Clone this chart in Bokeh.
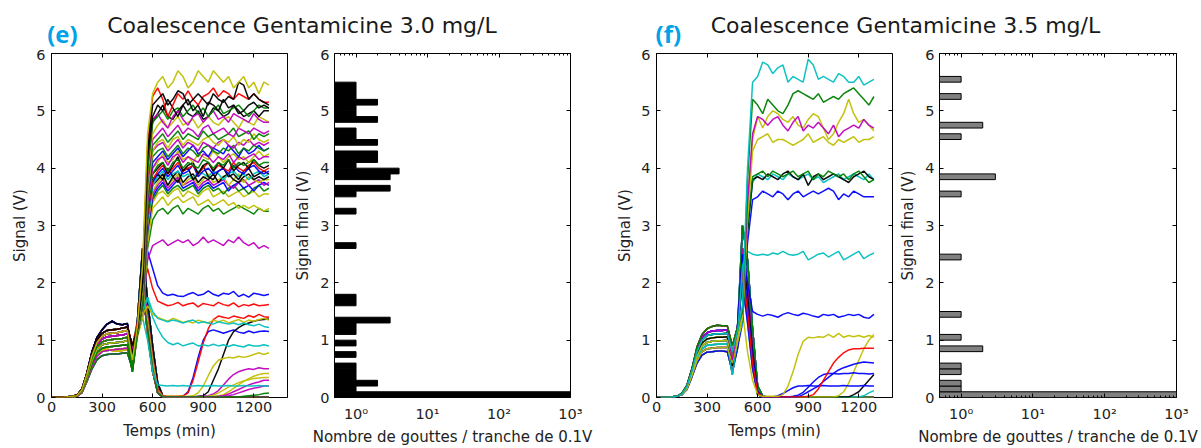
from bokeh.plotting import figure
from bokeh.layouts import row, column
from bokeh.models import Range1d, FixedTicker, LinearAxis, LogAxis, Label, CustomJSTickFormatter
from bokeh.embed import file_html
from bokeh.resources import INLINE

# ---------------- data ----------------
T = [0, 30, 60, 90, 120, 150, 180, 210, 240, 270, 300, 330, 360, 390, 420, 450, 480,
     510, 540, 570, 600, 630, 660, 690, 720, 750, 780, 810, 840, 870, 900, 930, 960,
     990, 1020, 1050, 1080, 1110, 1140, 1170, 1200, 1230, 1260, 1290]

X_TICKS = [0, 300, 600, 900, 1200]
Y_TICKS = [0, 1, 2, 3, 4, 5, 6]
LOG_TICKS = [1, 10, 100, 1000]

TITLE_E = "Coalescence Gentamicine 3.0 mg/L"
TITLE_F = "Coalescence Gentamicine 3.5 mg/L"

# early phase (t = 0..480), panel e
E_EARLY = [
    [0, 0, 0, 0.01, 0.01, 0.02, 0.08, 0.28, 0.50, 0.66, 0.73, 0.75, 0.76, 0.76, 0.77, 0.78, 0.50],
    [0, 0, 0, 0.01, 0.01, 0.02, 0.09, 0.30, 0.55, 0.72, 0.80, 0.82, 0.83, 0.84, 0.85, 0.86, 0.62],
    [0, 0, 0, 0.01, 0.01, 0.03, 0.10, 0.32, 0.59, 0.78, 0.86, 0.88, 0.89, 0.90, 0.91, 0.92, 0.45],
    [0, 0, 0, 0.01, 0.02, 0.03, 0.11, 0.35, 0.64, 0.84, 0.92, 0.94, 0.95, 0.96, 0.97, 0.99, 0.72],
    [0, 0, 0, 0.01, 0.02, 0.03, 0.12, 0.37, 0.68, 0.89, 0.97, 1.00, 1.01, 1.02, 1.03, 1.05, 0.55],
    [0, 0, 0, 0.01, 0.02, 0.03, 0.12, 0.38, 0.70, 0.92, 1.02, 1.06, 1.07, 1.08, 1.09, 1.11, 0.82],
    [0, 0, 0, 0.01, 0.02, 0.03, 0.13, 0.40, 0.73, 0.96, 1.07, 1.11, 1.12, 1.13, 1.15, 1.17, 0.65],
    [0, 0, 0, 0.01, 0.02, 0.04, 0.14, 0.42, 0.76, 1.00, 1.12, 1.17, 1.18, 1.19, 1.21, 1.23, 0.90],
    [0, 0, 0, 0.01, 0.02, 0.04, 0.14, 0.43, 0.80, 1.05, 1.18, 1.28, 1.33, 1.28, 1.27, 1.29, 0.75],
    [0, 0, 0, 0.01, 0.01, 0.02, 0.10, 0.32, 0.58, 0.76, 0.83, 0.84, 0.82, 0.81, 0.82, 0.84, 0.60],
]

# drops to zero (t = 510..1290), panel e
E_DROP = [
    [1.30, 2.30, 1.40, 0.70, 0.15, 0.02, 0, 0, 0, 0, 0, 0, 0, 0, 0, 0, 0, 0, 0, 0, 0, 0, 0, 0, 0, 0, 0],
    [1.20, 2.00, 1.10, 0.45, 0.08, 0.01, 0, 0, 0, 0, 0, 0, 0, 0, 0, 0, 0, 0, 0, 0, 0, 0, 0, 0, 0, 0, 0],
    [1.35, 2.60, 1.70, 0.90, 0.25, 0.03, 0, 0, 0, 0, 0, 0, 0, 0, 0, 0, 0, 0, 0, 0, 0, 0, 0, 0, 0, 0, 0],
]

E_ZERO = [("b", 0, 0), ("g", 1, 1), ("r", 2, 2), ("c", 3, 0), ("m", 4, 1), ("y", 5, 2), ("k", 6, 0),
          ("b", 7, 1), ("g", 8, 2), ("r", 9, 0), ("c", 0, 1), ("m", 1, 2), ("y", 2, 0), ("k", 3, 1),
          ("b", 4, 2), ("g", 5, 0), ("r", 6, 1), ("c", 7, 2), ("m", 8, 0), ("y", 9, 1), ("k", 4, 2)]

# traces that leave the zero line (t = 510..1290), panel e
E_TRACES = [
    ("b", 4, [1.25, 2.00, 1.30, 0.60, 0.12, 0.02, 0.01, 0.01, 0.01, 0.02, 0.10, 0.35, 0.70, 1.00, 1.15, 1.18, 1.15, 1.12, 1.15, 1.18, 1.14, 1.12, 1.16, 1.13, 1.15, 1.16, 1.15]),
    ("r", 5, [1.20, 1.90, 1.40, 0.70, 0.15, 0.03, 0.02, 0.02, 0.02, 0.03, 0.08, 0.30, 0.62, 0.95, 1.20, 1.36, 1.42, 1.40, 1.38, 1.42, 1.40, 1.38, 1.43, 1.40, 1.45, 1.41, 1.40]),
    ("k", 7, [1.20, 1.80, 1.30, 0.60, 0.10, 0.02, 0.01, 0.01, 0.01, 0.01, 0.01, 0.01, 0.02, 0.03, 0.10, 0.30, 0.50, 0.75, 1.00, 1.15, 1.22, 1.27, 1.30, 1.33, 1.35, 1.36, 1.37]),
    ("y", 2, [1.20, 1.85, 1.35, 0.65, 0.12, 0.02, 0.02, 0.02, 0.02, 0.02, 0.02, 0.03, 0.08, 0.20, 0.38, 0.55, 0.65, 0.68, 0.70, 0.69, 0.72, 0.70, 0.72, 0.75, 0.78, 0.75, 0.78]),
    ("m", 3, [1.20, 1.90, 1.30, 0.60, 0.10, 0.02, 0.01, 0.01, 0.01, 0.01, 0.01, 0.01, 0.01, 0.02, 0.03, 0.06, 0.12, 0.22, 0.32, 0.40, 0.45, 0.48, 0.50, 0.49, 0.52, 0.50, 0.50]),
    ("y", 1, [1.20, 1.90, 1.30, 0.60, 0.10, 0.02, 0.01, 0.01, 0.01, 0.01, 0.01, 0.01, 0.01, 0.01, 0.01, 0.02, 0.03, 0.05, 0.10, 0.16, 0.22, 0.28, 0.33, 0.37, 0.40, 0.42, 0.42]),
    ("m", 0, [1.20, 1.80, 1.20, 0.50, 0.08, 0.01, 0.01, 0.01, 0.01, 0.01, 0.01, 0.01, 0.01, 0.01, 0.01, 0.01, 0.02, 0.03, 0.06, 0.10, 0.14, 0.18, 0.22, 0.25, 0.27, 0.30, 0.30]),
    ("y", 9, [1.20, 1.85, 1.25, 0.55, 0.09, 0.01, 0.01, 0.01, 0.01, 0.01, 0.01, 0.01, 0.01, 0.01, 0.02, 0.04, 0.08, 0.13, 0.18, 0.22, 0.26, 0.29, 0.31, 0.33, 0.34, 0.35, 0.35]),
    ("m", 6, [1.20, 1.80, 1.20, 0.50, 0.08, 0.01, 0.01, 0.01, 0.01, 0.01, 0.01, 0.01, 0.01, 0.01, 0.01, 0.01, 0.01, 0.02, 0.03, 0.05, 0.08, 0.11, 0.14, 0.16, 0.18, 0.20, 0.20]),
    ("g", 5, [1.20, 1.80, 1.20, 0.50, 0.08, 0.01, 0.01, 0.01, 0.01, 0.01, 0.01, 0.01, 0.01, 0.01, 0.01, 0.01, 0.01, 0.01, 0.01, 0.01, 0.01, 0.02, 0.03, 0.04, 0.05, 0.07, 0.08]),
    ("c", 3, [1.10, 1.40, 1.00, 0.45, 0.22, 0.21, 0.20, 0.21, 0.20, 0.21, 0.20, 0.20, 0.21, 0.20, 0.20, 0.21, 0.20, 0.20, 0.21, 0.20, 0.20, 0.21, 0.20, 0.20, 0.21, 0.20, 0.20]),
    ("c", 6, [1.15, 1.50, 1.72, 1.40, 1.20, 1.05, 0.96, 0.92, 0.95, 0.90, 0.93, 0.95, 0.90, 0.92, 0.90, 0.93, 0.90, 0.92, 0.89, 0.92, 0.90, 0.88, 0.92, 0.90, 0.90, 0.92, 0.90]),
    ("y", 4, [1.15, 1.45, 1.60, 1.45, 1.40, 1.36, 1.33, 1.38, 1.35, 1.31, 1.33, 1.30, 1.35, 1.32, 1.30, 1.35, 1.32, 1.35, 1.30, 1.33, 1.36, 1.31, 1.35, 1.33, 1.36, 1.38, 1.35]),
    ("c", 1, [1.20, 1.55, 1.75, 1.50, 1.38, 1.35, 1.32, 1.35, 1.33, 1.30, 1.33, 1.35, 1.30, 1.32, 1.30, 1.28, 1.32, 1.30, 1.28, 1.30, 1.27, 1.30, 1.27, 1.25, 1.28, 1.24, 1.22]),
    ("r", 7, [1.20, 1.85, 2.25, 1.90, 1.68, 1.64, 1.60, 1.62, 1.66, 1.60, 1.63, 1.65, 1.58, 1.64, 1.62, 1.60, 1.66, 1.62, 1.60, 1.65, 1.58, 1.62, 1.60, 1.63, 1.60, 1.61, 1.62]),
    ("b", 8, [1.25, 1.95, 2.55, 2.25, 1.95, 1.82, 1.78, 1.80, 1.77, 1.76, 1.80, 1.83, 1.78, 1.80, 1.86, 1.80, 1.77, 1.82, 1.80, 1.85, 1.76, 1.80, 1.75, 1.82, 1.80, 1.78, 1.80]),
    ("m", 2, [1.10, 1.50, 2.40, 2.65, 2.70, 2.75, 2.65, 2.70, 2.75, 2.70, 2.75, 2.65, 2.70, 2.80, 2.70, 2.75, 2.70, 2.65, 2.75, 2.70, 2.80, 2.70, 2.65, 2.70, 2.60, 2.65, 2.60]),
    ("g", 0, [1.10, 1.40, 2.60, 3.10, 3.25, 3.30, 3.20, 3.30, 3.35, 3.20, 3.30, 3.25, 3.20, 3.30, 3.35, 3.25, 3.30, 3.20, 3.25, 3.30, 3.35, 3.30, 3.25, 3.20, 3.30, 3.25, 3.25]),
    ("y", 9, [1.05, 1.40, 2.70, 3.30, 3.40, 3.50, 3.35, 3.45, 3.50, 3.40, 3.45, 3.50, 3.35, 3.40, 3.45, 3.35, 3.40, 3.45, 3.35, 3.40, 3.30, 3.35, 3.30, 3.35, 3.30, 3.25, 3.30]),
    ("y", 1, [1.10, 1.40, 2.80, 3.40, 3.55, 3.60, 3.50, 3.60, 3.65, 3.50, 3.60, 3.55, 3.50, 3.60, 3.65, 3.50, 3.55, 3.60, 3.50, 3.55, 3.60, 3.50, 3.55, 3.60, 3.50, 3.55, 3.55]),
    ("g", 2, [1.15, 1.50, 2.90, 3.45, 3.60, 3.70, 3.55, 3.65, 3.70, 3.60, 3.65, 3.70, 3.55, 3.65, 3.70, 3.60, 3.65, 3.55, 3.65, 3.70, 3.60, 3.65, 3.55, 3.65, 3.70, 3.60, 3.65]),
    ("b", 3, [1.10, 1.50, 2.90, 3.50, 3.65, 3.75, 3.60, 3.70, 3.80, 3.65, 3.70, 3.75, 3.60, 3.70, 3.75, 3.65, 3.70, 3.75, 3.60, 3.70, 3.75, 3.65, 3.70, 3.60, 3.70, 3.75, 3.70]),
    ("m", 4, [1.15, 1.50, 3.00, 3.55, 3.70, 3.80, 3.65, 3.75, 3.85, 3.70, 3.75, 3.80, 3.65, 3.75, 3.80, 3.70, 3.75, 3.80, 3.70, 3.65, 3.75, 3.80, 3.70, 3.75, 3.80, 3.70, 3.75]),
    ("y", 5, [1.10, 1.50, 3.00, 3.60, 3.75, 3.85, 3.70, 3.80, 3.90, 3.70, 3.80, 3.85, 3.70, 3.80, 3.90, 3.75, 3.80, 3.85, 3.70, 3.80, 3.90, 3.75, 3.85, 3.80, 3.75, 3.80, 3.80]),
    ("k", 7, [1.20, 1.60, 3.10, 3.70, 3.80, 3.90, 3.70, 3.85, 3.95, 3.75, 3.85, 3.90, 3.75, 3.85, 3.80, 3.90, 3.75, 3.85, 3.90, 3.80, 3.75, 3.85, 3.90, 3.80, 3.85, 3.80, 3.85]),
    ("c", 6, [1.10, 1.60, 3.10, 3.70, 3.85, 3.95, 3.80, 3.90, 3.95, 3.85, 3.90, 3.80, 3.95, 3.90, 3.85, 3.95, 3.90, 3.80, 3.90, 3.95, 3.85, 3.90, 3.80, 3.90, 3.95, 3.85, 3.90]),
    ("k", 8, [1.25, 1.70, 3.20, 3.80, 3.90, 3.80, 4.00, 3.85, 3.75, 3.95, 4.00, 3.80, 3.90, 4.05, 3.85, 3.80, 3.95, 4.00, 3.85, 3.90, 3.80, 3.95, 4.00, 3.85, 3.90, 3.95, 3.90]),
    ("b", 5, [1.10, 1.60, 3.20, 3.75, 3.90, 4.00, 3.85, 3.95, 4.05, 3.90, 3.95, 4.05, 3.85, 3.95, 4.00, 3.90, 3.95, 4.00, 3.90, 4.05, 3.95, 3.90, 4.00, 4.05, 3.95, 3.90, 3.95]),
    ("r", 6, [1.20, 1.60, 3.20, 3.80, 3.95, 4.05, 3.90, 4.00, 4.10, 3.95, 4.00, 4.05, 3.90, 4.00, 4.10, 3.95, 4.05, 4.00, 3.95, 4.10, 4.00, 3.95, 4.05, 4.10, 4.00, 3.95, 4.00]),
    ("k", 7, [1.20, 1.70, 3.30, 3.90, 4.00, 4.10, 3.90, 4.05, 4.20, 3.95, 4.05, 4.10, 3.90, 4.05, 4.10, 3.95, 4.10, 4.00, 4.15, 3.95, 4.05, 4.10, 4.00, 4.15, 4.05, 4.00, 4.05]),
    ("g", 3, [1.15, 1.60, 3.30, 3.90, 4.05, 4.10, 3.95, 4.10, 4.15, 4.00, 4.10, 4.05, 4.00, 4.15, 4.10, 4.00, 4.10, 4.05, 4.15, 4.00, 4.10, 4.05, 4.10, 4.15, 4.05, 4.10, 4.10]),
    ("y", 4, [1.10, 1.70, 3.40, 4.00, 4.10, 4.25, 4.10, 4.15, 4.30, 4.15, 4.20, 4.10, 4.25, 4.20, 4.15, 4.30, 4.20, 4.10, 4.20, 4.25, 4.15, 4.20, 4.10, 4.20, 4.30, 4.20, 4.25]),
    ("m", 5, [1.20, 1.70, 3.40, 4.00, 4.15, 4.20, 4.05, 4.20, 4.25, 4.10, 4.20, 4.15, 4.10, 4.25, 4.20, 4.10, 4.20, 4.15, 4.25, 4.10, 4.20, 4.15, 4.20, 4.25, 4.15, 4.20, 4.20]),
    ("b", 8, [1.15, 1.70, 3.50, 4.10, 4.20, 4.30, 4.15, 4.25, 4.35, 4.20, 4.30, 4.40, 4.25, 4.30, 4.20, 4.35, 4.30, 4.25, 4.40, 4.30, 4.20, 4.35, 4.25, 4.30, 4.40, 4.30, 4.35]),
    ("g", 6, [1.10, 1.70, 3.50, 4.20, 4.30, 4.35, 4.20, 4.30, 4.40, 4.25, 4.35, 4.30, 4.20, 4.35, 4.40, 4.30, 4.25, 4.35, 4.30, 4.40, 4.25, 4.35, 4.30, 4.40, 4.35, 4.30, 4.35]),
    ("m", 1, [1.15, 1.80, 3.60, 4.30, 4.40, 4.45, 4.30, 4.40, 4.50, 4.35, 4.45, 4.40, 4.30, 4.45, 4.40, 4.35, 4.45, 4.50, 4.40, 4.35, 4.45, 4.40, 4.50, 4.40, 4.45, 4.40, 4.45]),
    ("y", 7, [1.20, 1.80, 3.60, 4.30, 4.45, 4.50, 4.35, 4.50, 4.55, 4.40, 4.50, 4.45, 4.40, 4.50, 4.55, 4.45, 4.40, 4.50, 4.45, 4.55, 4.40, 4.50, 4.45, 4.60, 4.50, 4.45, 4.50]),
    ("g", 2, [1.10, 1.80, 3.70, 4.40, 4.50, 4.60, 4.45, 4.55, 4.65, 4.50, 4.60, 4.55, 4.50, 4.65, 4.55, 4.60, 4.50, 4.55, 4.60, 4.70, 4.55, 4.60, 4.65, 4.50, 4.60, 4.55, 4.60]),
    ("m", 5, [1.20, 1.90, 3.80, 4.50, 4.60, 4.70, 4.55, 4.65, 4.75, 4.60, 4.70, 4.65, 4.55, 4.70, 4.75, 4.60, 4.65, 4.70, 4.60, 4.55, 4.70, 4.65, 4.60, 4.70, 4.65, 4.60, 4.65]),
    ("y", 3, [1.15, 1.90, 3.90, 4.60, 4.75, 4.85, 4.70, 4.80, 4.90, 4.75, 4.80, 4.85, 4.70, 4.80, 4.90, 4.80, 4.75, 4.85, 4.90, 4.80, 4.70, 4.85, 4.80, 4.75, 4.90, 4.85, 4.80]),
    ("k", 7, [1.20, 2.00, 4.00, 4.80, 4.95, 5.10, 4.90, 4.85, 5.00, 5.10, 4.95, 4.90, 5.00, 4.85, 4.90, 5.05, 5.00, 4.90, 4.95, 5.10, 5.00, 4.90, 4.95, 5.00, 4.90, 5.00, 5.00]),
    ("m", 6, [1.25, 2.10, 4.10, 4.85, 4.95, 4.80, 4.70, 4.90, 5.00, 4.85, 4.75, 4.90, 4.95, 4.80, 4.90, 5.00, 4.85, 4.90, 4.80, 4.95, 4.90, 4.85, 4.80, 4.95, 4.85, 4.80, 4.80]),
    ("g", 4, [1.20, 2.00, 4.00, 4.80, 4.90, 5.00, 4.85, 5.00, 5.05, 4.90, 5.00, 5.10, 4.95, 5.05, 4.90, 5.00, 5.10, 4.95, 5.00, 5.05, 5.10, 5.00, 4.90, 5.00, 5.10, 5.05, 5.05]),
    ("k", 8, [1.20, 2.10, 4.20, 4.90, 5.10, 5.00, 5.20, 5.05, 4.90, 5.10, 5.20, 5.00, 5.10, 4.90, 5.15, 5.10, 5.00, 5.20, 5.05, 5.10, 4.95, 5.00, 5.10, 5.15, 5.05, 5.10, 5.05]),
    ("r", 7, [1.30, 2.20, 4.40, 5.25, 5.40, 5.20, 4.90, 5.10, 5.30, 5.20, 5.35, 5.20, 5.10, 5.25, 5.30, 5.40, 5.25, 5.35, 5.30, 5.20, 5.30, 5.25, 5.20, 5.30, 5.20, 5.15, 5.15]),
    ("k", 7, [1.20, 2.00, 4.30, 5.10, 5.20, 5.30, 5.10, 5.20, 5.35, 5.30, 5.10, 5.20, 5.30, 5.20, 5.10, 5.30, 5.20, 5.15, 5.25, 5.20, 5.50, 5.45, 5.20, 5.30, 5.20, 5.15, 5.10]),
    ("y", 6, [1.25, 2.30, 4.60, 5.30, 5.50, 5.60, 5.40, 5.50, 5.70, 5.60, 5.40, 5.50, 5.70, 5.60, 5.50, 5.70, 5.60, 5.50, 5.60, 5.40, 5.50, 5.60, 5.40, 5.50, 5.30, 5.50, 5.45]),
]

# early phase (t = 0..480), panel f
F_EARLY = [
    [0, 0, 0, 0.01, 0.02, 0.05, 0.14, 0.36, 0.60, 0.74, 0.79, 0.80, 0.81, 0.81, 0.80, 0.45, 0.85],
    [0, 0, 0, 0.01, 0.02, 0.05, 0.15, 0.38, 0.64, 0.80, 0.85, 0.86, 0.87, 0.87, 0.87, 0.60, 0.95],
    [0, 0, 0, 0.01, 0.02, 0.05, 0.16, 0.40, 0.68, 0.85, 0.91, 0.92, 0.93, 0.93, 0.94, 0.40, 1.00],
    [0, 0, 0, 0.01, 0.02, 0.06, 0.17, 0.42, 0.72, 0.90, 0.96, 0.98, 0.99, 0.99, 1.00, 0.70, 1.05],
    [0, 0, 0, 0.01, 0.02, 0.06, 0.18, 0.44, 0.76, 0.95, 1.02, 1.04, 1.05, 1.05, 1.06, 0.55, 1.10],
    [0, 0, 0, 0.01, 0.02, 0.06, 0.19, 0.46, 0.80, 1.00, 1.08, 1.10, 1.11, 1.11, 1.12, 0.80, 1.15],
    [0, 0, 0, 0.01, 0.02, 0.06, 0.20, 0.48, 0.84, 1.05, 1.13, 1.16, 1.17, 1.17, 1.18, 0.65, 1.20],
    [0, 0, 0, 0.01, 0.02, 0.07, 0.21, 0.50, 0.88, 1.10, 1.20, 1.24, 1.26, 1.25, 1.25, 0.90, 1.22],
]

F_DROP = [
    [2.60, 2.00, 0.90, 0.10, 0.02, 0, 0, 0, 0, 0, 0, 0, 0, 0, 0, 0, 0, 0, 0, 0, 0, 0, 0, 0, 0, 0, 0],
    [2.20, 1.50, 0.60, 0.05, 0.01, 0, 0, 0, 0, 0, 0, 0, 0, 0, 0, 0, 0, 0, 0, 0, 0, 0, 0, 0, 0, 0, 0],
    [3.00, 2.40, 1.20, 0.20, 0.03, 0, 0, 0, 0, 0, 0, 0, 0, 0, 0, 0, 0, 0, 0, 0, 0, 0, 0, 0, 0, 0, 0],
]

F_ZERO = [("b", 0, 0), ("g", 1, 1), ("r", 2, 2), ("c", 3, 0), ("m", 4, 1), ("y", 5, 2), ("k", 6, 0),
          ("b", 7, 1), ("g", 0, 2), ("r", 1, 0), ("c", 2, 1), ("m", 3, 2), ("y", 4, 0), ("k", 5, 1),
          ("b", 6, 2), ("g", 7, 0), ("r", 3, 1), ("c", 5, 2), ("m", 6, 0), ("y", 2, 1), ("g", 4, 2)]

F_TRACES = [
    ("c", 2, [2.10, 1.30, 0.50, 0.05, 0.01, 0.01, 0.01, 0.01, 0.01, 0.01, 0.01, 0.01, 0.01, 0.01, 0.01, 0.01, 0.01, 0.01, 0.01, 0.01, 0.01, 0.01, 0.01, 0.01, 0.03, 0.08, 0.12]),
    ("k", 3, [2.50, 1.80, 0.80, 0.10, 0.01, 0.01, 0.01, 0.01, 0.01, 0.01, 0.01, 0.01, 0.01, 0.01, 0.01, 0.01, 0.01, 0.01, 0.01, 0.01, 0.01, 0.01, 0.05, 0.10, 0.20, 0.30, 0.40]),
    ("y", 4, [2.20, 1.40, 0.50, 0.05, 0.01, 0.01, 0.01, 0.01, 0.01, 0.01, 0.01, 0.01, 0.01, 0.01, 0.01, 0.01, 0.01, 0.01, 0.01, 0.03, 0.10, 0.25, 0.45, 0.65, 0.85, 1.00, 1.10]),
    ("b", 1, [2.30, 1.50, 0.60, 0.07, 0.01, 0.01, 0.01, 0.03, 0.07, 0.12, 0.17, 0.20, 0.20, 0.21, 0.20, 0.20, 0.21, 0.20, 0.20, 0.20, 0.21, 0.20, 0.20, 0.20, 0.21, 0.20, 0.20]),
    ("b", 5, [2.40, 1.60, 0.70, 0.10, 0.01, 0.01, 0.01, 0.01, 0.01, 0.01, 0.02, 0.04, 0.09, 0.18, 0.27, 0.35, 0.40, 0.42, 0.42, 0.41, 0.42, 0.42, 0.43, 0.42, 0.42, 0.41, 0.42]),
    ("b", 6, [2.00, 1.30, 0.50, 0.06, 0.01, 0.01, 0.01, 0.01, 0.01, 0.01, 0.01, 0.01, 0.05, 0.10, 0.15, 0.20, 0.28, 0.35, 0.42, 0.48, 0.52, 0.55, 0.58, 0.60, 0.62, 0.61, 0.60]),
    ("r", 7, [2.20, 1.50, 0.60, 0.08, 0.01, 0.01, 0.01, 0.01, 0.01, 0.01, 0.01, 0.01, 0.01, 0.02, 0.05, 0.15, 0.30, 0.45, 0.60, 0.70, 0.78, 0.83, 0.85, 0.85, 0.86, 0.86, 0.86]),
    ("y", 0, [1.50, 0.80, 0.30, 0.05, 0.02, 0.02, 0.02, 0.02, 0.05, 0.20, 0.45, 0.75, 0.98, 1.05, 1.04, 1.06, 1.05, 1.10, 1.05, 1.12, 1.05, 1.08, 1.06, 1.08, 1.05, 1.08, 1.05]),
    ("b", 6, [2.50, 2.00, 1.50, 1.45, 1.42, 1.45, 1.43, 1.40, 1.45, 1.48, 1.45, 1.43, 1.47, 1.45, 1.42, 1.40, 1.45, 1.43, 1.45, 1.40, 1.42, 1.45, 1.43, 1.45, 1.40, 1.38, 1.45]),
    ("c", 3, [2.30, 2.55, 2.50, 2.48, 2.50, 2.48, 2.52, 2.50, 2.55, 2.50, 2.48, 2.50, 2.55, 2.40, 2.45, 2.50, 2.52, 2.45, 2.50, 2.55, 2.40, 2.45, 2.50, 2.55, 2.42, 2.48, 2.52]),
    ("b", 0, [1.30, 2.70, 3.45, 3.50, 3.60, 3.55, 3.50, 3.60, 3.55, 3.45, 3.55, 3.60, 3.50, 3.55, 3.60, 3.55, 3.60, 3.65, 3.60, 3.45, 3.55, 3.50, 3.60, 3.55, 3.50, 3.50, 3.50]),
    ("c", 2, [1.30, 2.90, 3.75, 3.90, 3.85, 3.80, 3.90, 3.85, 3.80, 3.90, 3.85, 3.80, 3.85, 3.90, 3.80, 3.85, 3.75, 3.80, 3.85, 3.90, 3.80, 3.85, 3.90, 3.85, 3.80, 3.90, 3.80]),
    ("k", 4, [1.35, 2.90, 3.80, 3.85, 3.80, 3.90, 3.85, 3.80, 3.90, 3.95, 3.85, 3.80, 3.90, 3.70, 3.85, 3.90, 3.80, 3.85, 3.90, 3.85, 3.80, 3.75, 3.85, 3.90, 3.95, 3.85, 3.80]),
    ("g", 5, [1.35, 3.00, 3.85, 3.90, 3.95, 3.85, 3.95, 3.90, 3.85, 3.90, 3.95, 3.85, 3.90, 3.95, 3.80, 3.90, 3.85, 3.95, 3.90, 3.85, 3.90, 3.80, 3.90, 3.95, 3.85, 3.75, 3.80]),
    ("y", 1, [1.40, 3.10, 4.30, 4.50, 4.55, 4.60, 4.45, 4.50, 4.50, 4.45, 4.40, 4.45, 4.50, 4.60, 4.45, 4.50, 4.55, 4.45, 4.40, 4.50, 4.45, 4.50, 4.55, 4.45, 4.50, 4.50, 4.55]),
    ("y", 3, [1.40, 3.30, 4.50, 4.90, 4.70, 4.90, 5.00, 4.95, 4.85, 4.80, 4.90, 4.75, 4.70, 4.85, 4.95, 4.90, 4.70, 4.50, 4.60, 4.80, 4.95, 5.20, 4.95, 4.80, 4.85, 4.75, 4.65]),
    ("m", 6, [1.50, 3.40, 4.60, 4.90, 4.85, 4.75, 4.85, 4.90, 4.75, 4.65, 4.80, 4.90, 4.65, 4.75, 4.70, 4.80, 4.70, 4.60, 4.75, 4.55, 4.65, 4.70, 4.75, 4.70, 4.85, 4.75, 4.70]),
    ("g", 7, [1.50, 3.80, 5.20, 5.10, 4.95, 5.20, 5.10, 5.00, 4.95, 5.10, 5.30, 5.35, 5.30, 5.25, 5.20, 5.30, 5.15, 5.20, 5.25, 5.20, 5.30, 5.35, 5.40, 5.30, 5.20, 5.10, 5.25]),
    ("c", 5, [1.60, 4.00, 5.50, 5.60, 5.85, 5.80, 5.65, 5.75, 5.80, 5.50, 5.60, 5.55, 5.50, 5.90, 5.80, 5.55, 5.60, 5.55, 5.50, 5.65, 5.60, 5.50, 5.50, 5.60, 5.45, 5.50, 5.55]),
]

# histograms: lower edge of 0.1 V bins and number of drops in them
E_BIN_LO = [0.0, 0.1, 0.2, 0.3, 0.4, 0.5, 0.7, 0.9, 1.1, 1.2, 1.3, 1.6, 1.7, 2.6, 3.2, 3.5,
            3.6, 3.8, 3.9, 4.0, 4.1, 4.2, 4.4, 4.5, 4.6, 4.8, 4.9, 5.0, 5.1, 5.2, 5.3, 5.4]
E_BIN_N = [1000, 1, 2, 1, 1, 1, 1, 1, 1, 1, 3, 1, 1, 1, 1, 1,
           3, 3, 4, 1, 2, 2, 2, 1, 1, 2, 1, 1, 2, 1, 1, 1]
F_BIN_LO = [0.0, 0.1, 0.2, 0.4, 0.5, 0.8, 1.0, 1.4, 2.4, 3.5, 3.8, 4.5, 4.7, 5.2, 5.5]
F_BIN_N = [1000, 1, 1, 1, 1, 2, 1, 1, 1, 1, 3, 1, 2, 1, 1]

# ---------------- styling ----------------
COLORS = {"b": "#0000ff", "g": "#008000", "r": "#ff0000", "c": "#00bfbf",
          "m": "#bf00bf", "y": "#bfbf00", "k": "#000000"}
FONT = "DejaVu Sans"
TXT = "#222222"
HEAD = 49        # header canvas: page y 0..49
H = 399          # row canvas: page y 49..448, frame 52..397

SUP = CustomJSTickFormatter(code="""
const s = {"0": "\u2070", "1": "\u00b9", "2": "\u00b2", "3": "\u00b3"};
const e = Math.round(Math.log(tick) / Math.LN10);
return "10" + (s[String(e)] || String(e));
""")


def blank_fmt():
    return CustomJSTickFormatter(code="return ' ';")


def style_axis(ax, ticker, label=None, show=True, standoff=3, label_standoff=5, formatter=None):
    ax.ticker = ticker
    ax.axis_line_color = None
    ax.major_tick_in = 4
    ax.major_tick_out = 0
    ax.minor_tick_in = 2
    ax.minor_tick_out = 0
    ax.major_tick_line_color = "black"
    ax.minor_tick_line_color = "black"
    if show:
        if formatter is not None:
            ax.formatter = formatter
        ax.major_label_text_font = FONT
        ax.major_label_text_font_size = "14.5px"
        ax.major_label_text_color = TXT
        ax.major_label_standoff = standoff
        ax.axis_label = label
        ax.axis_label_text_font = FONT
        ax.axis_label_text_font_size = "15px"
        ax.axis_label_text_font_style = "normal"
        ax.axis_label_text_color = TXT
        ax.axis_label_standoff = label_standoff
    else:
        ax.formatter = blank_fmt()
        ax.major_label_text_font_size = "1px"
        ax.major_label_standoff = 0
        ax.axis_label = None


def base_fig(width, ml, mr, log=False):
    kw = dict(width=width, height=H, min_border_left=ml, min_border_right=mr,
              min_border_top=3, min_border_bottom=51, y_range=Range1d(0, 6),
              output_backend="svg", toolbar_location=None, title=None)
    if log:
        kw["x_axis_type"] = "log"
        kw["x_range"] = Range1d(0.5, 1000)
    else:
        kw["x_range"] = Range1d(0, 1400)
    p = figure(**kw)
    p.grid.visible = False
    p.outline_line_color = "black"
    p.outline_line_width = 1
    p.background_fill_color = "white"
    p.border_fill_color = "white"
    return p


def line_fig(width, ml, mr, early, drops, zeros, traces):
    p = base_fig(width, ml, mr)
    xs, ys, cs = [], [], []
    for col, ei, di in zeros:
        y = early[ei] + drops[di]
        xs.append(T[:len(y)]); ys.append(y); cs.append(COLORS[col])
    for col, ei, late in traces:
        y = early[ei] + late
        xs.append(T[:len(y)]); ys.append(y); cs.append(COLORS[col])
    p.multi_line(xs=xs, ys=ys, line_color=cs, line_width=1.5, line_alpha=0.95)
    style_axis(p.below[0], FixedTicker(ticks=X_TICKS), "Temps (min)", standoff=4, label_standoff=7)
    style_axis(p.left[0], FixedTicker(ticks=Y_TICKS), "Signal (V)", standoff=6, label_standoff=4)
    top = LinearAxis()
    style_axis(top, FixedTicker(ticks=X_TICKS), show=False)
    p.add_layout(top, "above")
    right = LinearAxis()
    style_axis(right, FixedTicker(ticks=Y_TICKS), show=False)
    p.add_layout(right, "right")
    return p


MINOR = [m * 10 ** k for k in range(-1, 3) for m in range(2, 10)]


def hist_fig(width, ml, mr, lo, n, fill):
    p = base_fig(width, ml, mr, log=True)
    p.hbar(y=[b + 0.05 for b in lo], height=0.1, left=0.01, right=n,
           fill_color=fill, line_color="black", line_width=1)
    style_axis(p.below[0], FixedTicker(ticks=LOG_TICKS, minor_ticks=MINOR),
               "Nombre de gouttes / tranche de 0.1V", standoff=8, label_standoff=3, formatter=SUP)
    style_axis(p.left[0], FixedTicker(ticks=Y_TICKS), "Signal final (V)", standoff=5, label_standoff=5)
    top = LogAxis()
    style_axis(top, FixedTicker(ticks=LOG_TICKS, minor_ticks=MINOR), show=False)
    p.add_layout(top, "above")
    right = LinearAxis()
    style_axis(right, FixedTicker(ticks=Y_TICKS), show=False)
    p.add_layout(right, "right")
    return p


pe1 = line_fig(290, 51, 2, E_EARLY, E_DROP, E_ZERO, E_TRACES)
pe2 = hist_fig(322, 44, 42, E_BIN_LO, E_BIN_N, "black")
pf1 = line_fig(283, 44, 2, F_EARLY, F_DROP, F_ZERO, F_TRACES)
pf2 = hist_fig(305, 44, 24, F_BIN_LO, F_BIN_N, "#808080")

# header with titles and panel letters
ph = figure(width=1200, height=HEAD, x_range=Range1d(0, 1200), y_range=Range1d(0, HEAD),
            min_border_left=0, min_border_right=0, min_border_top=0, min_border_bottom=0,
            output_backend="svg", toolbar_location=None, title=None)
ph.axis.visible = False
ph.grid.visible = False
ph.outline_line_color = None
ph.background_fill_color = "white"
ph.border_fill_color = "white"
for xc, txt in [(301.5, TITLE_E), (905, TITLE_F)]:
    ph.add_layout(Label(x=xc, y=24.5, text=txt, text_align="center", text_baseline="middle",
                        text_font=FONT, text_font_size="22px", text_color="#1a1a1a"))
for xl, txt in [(46.7, "(e)"), (655, "(f)")]:
    ph.add_layout(Label(x=xl, y=16.5, text=txt, text_align="left", text_baseline="middle",
                        text_font="Open Sans", text_font_style="bold", text_font_size="24px",
                        text_color="#00a2e8"))

layout = column(ph, row(pe1, pe2, pf1, pf2, spacing=0), spacing=0)

open("out.html", "w").write(file_html(layout, INLINE))
